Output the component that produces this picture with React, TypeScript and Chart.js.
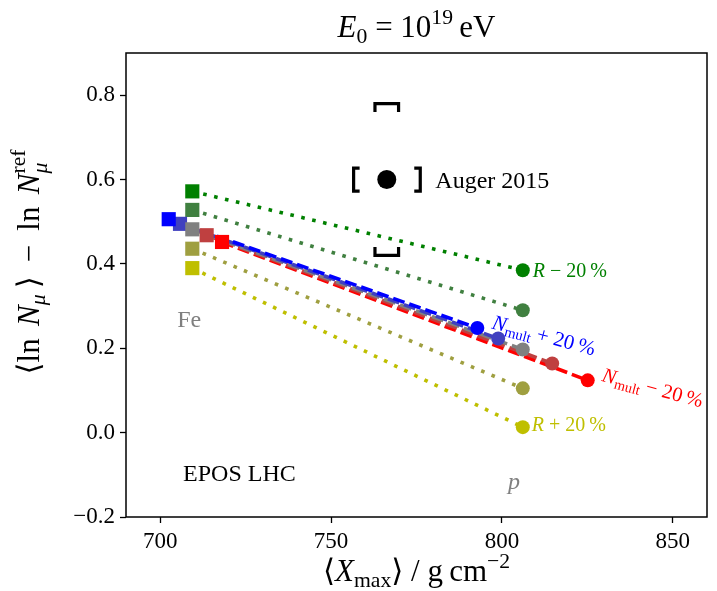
import React, { useEffect, useRef } from 'react';
import { Chart, registerables } from 'chart.js';
Chart.register(...registerables);

// ---------- data ----------
const seriesNames = ['Nmult +20%', 'Nmult +10%', 'reference', 'Nmult -10%', 'Nmult -20%', 'R -20%', 'R -10%', 'R +10%', 'R +20%'];
const feX = [702.5, 705.8, 709.4, 713.6, 718.1, 709.4, 709.4, 709.4, 709.4];
const feY = [0.506, 0.495, 0.482, 0.468, 0.452, 0.572, 0.528, 0.436, 0.39];
const pX = [792.8, 798.9, 806.1, 814.7, 825.1, 806.1, 806.1, 806.1, 806.1];
const pY = [0.248, 0.223, 0.197, 0.164, 0.124, 0.385, 0.29, 0.105, 0.013];

const augerX = [766.3];
const augerY = [0.6];
const augerSysX = [756.6, 776.1];
const augerSysY = [0.42, 0.78];

const xTicks = [700, 750, 800, 850];
const yTicks = [-0.2, 0, 0.2, 0.4, 0.6, 0.8];
const xRange = [690, 860];
const yRange = [-0.2, 0.9];

// ---------- styles ----------
const seriesColors = ['#0000ff', '#4040bf', '#808080', '#bf4040', '#ff0000', '#008000', '#408040', '#9f9f40', '#bfbf00'];
const seriesDashed = [true, true, true, true, true, false, false, false, false];
const lineOrder = [10, 11, 12, 13, 14, 15, 16, 17, 18];
const markerOrder = [2, 3, 1, 4, 5, 6, 7, 8, 9];

const SERIF = '"Liberation Serif", "DejaVu Serif", serif';

type Seg = { t: string; it?: boolean; sc?: number; dy?: number; stack?: boolean };

function fontStr(size: number, it?: boolean) {
  return `${it ? 'italic ' : ''}${size}px ${SERIF}`;
}

function layoutRich(ctx: CanvasRenderingContext2D, segs: Seg[], size: number) {
  const out: { s: Seg; x: number; w: number }[] = [];
  let cx = 0;
  let stackStart: number | null = null;
  let stackW = 0;
  for (const s of segs) {
    ctx.font = fontStr(size * (s.sc ?? 1), s.it);
    const w = ctx.measureText(s.t).width;
    if (stackStart !== null) {
      out.push({ s, x: stackStart, w });
      cx = stackStart + Math.max(stackW, w);
      stackStart = null;
      continue;
    }
    out.push({ s, x: cx, w });
    if (s.stack) {
      stackStart = cx;
      stackW = w;
    }
    cx += w;
  }
  return { items: out, width: cx };
}

function drawRich(ctx: CanvasRenderingContext2D, segs: Seg[], x: number, y: number, size: number, align: 'left' | 'center', color: string) {
  const { items, width } = layoutRich(ctx, segs, size);
  const x0 = align === 'center' ? x - width / 2 : x;
  ctx.fillStyle = color;
  ctx.textAlign = 'left';
  ctx.textBaseline = 'alphabetic';
  for (const it of items) {
    ctx.font = fontStr(size * (it.s.sc ?? 1), it.s.it);
    ctx.fillText(it.s.t, x0 + it.x, y - (it.s.dy ?? 0) * size);
  }
}

const titleSegs: Seg[] = [
  { t: 'E', it: true },
  { t: '0', sc: 0.7, dy: -0.2 },
  { t: ' = 10' },
  { t: '19', sc: 0.7, dy: 0.42 },
  { t: '\u2009eV' },
];
const xLabelSegs: Seg[] = [
  { t: '\u27E8' },
  { t: 'X', it: true },
  { t: 'max', sc: 0.7, dy: -0.2 },
  { t: '\u27E9 / g\u2009cm' },
  { t: '\u22122', sc: 0.7, dy: 0.42 },
];
const yLabelSegs: Seg[] = [
  { t: '\u27E8ln\u2009\u2009' },
  { t: 'N', it: true },
  { t: '\u03BC', it: true, sc: 0.7, dy: -0.2 },
  { t: '\u2009\u27E9 \u2009\u2212\u2009 ln\u2009\u2009' },
  { t: 'N', it: true },
  { t: '\u03BC', it: true, sc: 0.7, dy: -0.25, stack: true },
  { t: 'ref', sc: 0.7, dy: 0.45 },
];

const decorPlugin = {
  id: 'decor',
  afterDraw(chart: any) {
    const { ctx, chartArea: a } = chart;
    const xs = chart.scales.x;
    const ys = chart.scales.y;
    ctx.save();
    // frame
    ctx.strokeStyle = '#000';
    ctx.lineWidth = 1.5;
    ctx.strokeRect(a.left, a.top, a.right - a.left, a.bottom - a.top);

    // Auger systematic brackets
    const cx = xs.getPixelForValue(augerX[0]);
    const cy = ys.getPixelForValue(augerY[0]);
    const xl = xs.getPixelForValue(augerSysX[0]);
    const xr = xs.getPixelForValue(augerSysX[1]);
    const yb = ys.getPixelForValue(augerSysY[0]);
    const yt = ys.getPixelForValue(augerSysY[1]);
    ctx.lineWidth = 3.2;
    ctx.lineCap = 'butt';
    ctx.lineJoin = 'miter';
    const h = 11.5, arm = 6, w = 11.8, leg = 8.5;
    ctx.beginPath();
    ctx.moveTo(xl + arm, cy - h); ctx.lineTo(xl, cy - h); ctx.lineTo(xl, cy + h); ctx.lineTo(xl + arm, cy + h);
    ctx.moveTo(xr - arm, cy - h); ctx.lineTo(xr, cy - h); ctx.lineTo(xr, cy + h); ctx.lineTo(xr - arm, cy + h);
    ctx.moveTo(cx - w, yt + leg); ctx.lineTo(cx - w, yt); ctx.lineTo(cx + w, yt); ctx.lineTo(cx + w, yt + leg);
    ctx.moveTo(cx - w, yb - leg); ctx.lineTo(cx - w, yb); ctx.lineTo(cx + w, yb); ctx.lineTo(cx + w, yb - leg);
    ctx.stroke();

    const P = (x: number, y: number) => [xs.getPixelForValue(x), ys.getPixelForValue(y)];

    // in-plot texts
    let [tx, ty] = P(780.5, 0.581);
    drawRich(ctx, [{ t: 'Auger 2015' }], tx, ty, 24, 'left', '#000');
    [tx, ty] = P(708.5, 0.25);
    drawRich(ctx, [{ t: 'Fe' }], tx, ty, 24, 'center', '#808080');
    [tx, ty] = P(803.5, -0.134);
    drawRich(ctx, [{ t: 'p', it: true }], tx, ty, 24, 'center', '#808080');
    [tx, ty] = P(706.7, -0.115);
    drawRich(ctx, [{ t: 'EPOS LHC' }], tx, ty, 24, 'left', '#000');
    [tx, ty] = P(809.0, 0.368);
    drawRich(ctx, [{ t: 'R', it: true }, { t: ' \u2212 20\u2009%' }], tx, ty, 20, 'left', '#008000');
    [tx, ty] = P(808.7, 0.003);
    drawRich(ctx, [{ t: 'R', it: true }, { t: ' + 20\u2009%' }], tx, ty, 20, 'left', '#bfbf00');

    const rot = (15 * Math.PI) / 180;
    [tx, ty] = P(796.8, 0.2476);
    ctx.save();
    ctx.translate(tx, ty);
    ctx.rotate(rot);
    drawRich(ctx, [{ t: 'N', it: true }, { t: 'mult', sc: 0.7, dy: -0.2 }, { t: ' + 20\u2009%' }], 0, 0, 21, 'left', '#0000ff');
    ctx.restore();
    [tx, ty] = P(829.0, 0.123);
    ctx.save();
    ctx.translate(tx, ty);
    ctx.rotate(rot);
    drawRich(ctx, [{ t: 'N', it: true }, { t: 'mult', sc: 0.7, dy: -0.2 }, { t: ' \u2212 20\u2009%' }], 0, 0, 20.5, 'left', '#ff0000');
    ctx.restore();

    // title and axis labels
    const mid = (a.left + a.right) / 2;
    drawRich(ctx, titleSegs, mid, 37, 31, 'center', '#000');
    drawRich(ctx, xLabelSegs, mid, 581, 31, 'center', '#000');
    ctx.save();
    ctx.translate(39, 262);
    ctx.rotate(-Math.PI / 2);
    drawRich(ctx, yLabelSegs, 0, 0, 31, 'center', '#000');
    ctx.restore();

    ctx.restore();
  },
};

export default function App() {
  const ref = useRef<HTMLCanvasElement | null>(null);
  useEffect(() => {
    if (!ref.current) return;
    const datasets: any[] = [];
    seriesNames.forEach((name, i) => {
      const pts = [
        { x: feX[i], y: feY[i] },
        { x: pX[i], y: pY[i] },
      ];
      // connecting line
      datasets.push({
        label: name + ' line',
        data: pts,
        showLine: true,
        borderColor: seriesColors[i],
        backgroundColor: seriesColors[i],
        borderWidth: 3.6,
        borderDash: seriesDashed[i] ? [12, 5] : [3.6, 7.6],
        pointRadius: 0,
        order: lineOrder[i],
      });
      // markers (Fe square, proton circle)
      datasets.push({
        label: name,
        data: pts,
        showLine: false,
        borderColor: seriesColors[i],
        backgroundColor: seriesColors[i],
        pointStyle: ['rect', 'circle'],
        pointRadius: [10, 7],
        pointBorderWidth: 0,
        order: markerOrder[i],
      });
    });
    datasets.push({
      label: 'Auger 2015',
      data: augerX.map((x, i) => ({ x, y: augerY[i] })),
      showLine: false,
      backgroundColor: '#000',
      borderColor: '#000',
      pointStyle: 'circle',
      pointRadius: 9.5,
      pointBorderWidth: 0,
      order: 0,
    });
    const tickFont = { family: SERIF, size: 23 };
    const chart = new Chart(ref.current, {
      type: 'scatter',
      data: { datasets },
      options: {
        animation: false,
        responsive: false,
        maintainAspectRatio: false,
        devicePixelRatio: 1,
        layout: { padding: { top: 53, right: 8, left: 0, bottom: 0 } },
        plugins: { legend: { display: false }, tooltip: { enabled: false } },
        events: [],
        scales: {
          x: {
            type: 'linear',
            min: xRange[0],
            max: xRange[1],
            afterBuildTicks: (s: any) => {
              s.ticks = xTicks.map((v) => ({ value: v }));
            },
            afterFit: (s: any) => {
              s.height = 74;
            },
            ticks: { color: '#000', font: tickFont, padding: 5, callback: (v: any) => String(v) },
            grid: { display: true, drawOnChartArea: false, drawTicks: true, tickLength: 6, tickColor: '#000', tickWidth: 1.3 },
            border: { display: false },
          },
          y: {
            type: 'linear',
            min: yRange[0],
            max: yRange[1],
            afterBuildTicks: (s: any) => {
              s.ticks = yTicks.map((v) => ({ value: v }));
            },
            afterFit: (s: any) => {
              s.width = 126;
            },
            ticks: {
              color: '#000',
              font: tickFont,
              padding: 5,
              callback: (v: any) => Number(v).toFixed(1).replace('-', '\u2212'),
            },
            grid: { display: true, drawOnChartArea: false, drawTicks: true, tickLength: 6, tickColor: '#000', tickWidth: 1.3 },
            border: { display: false },
          },
        },
      },
      plugins: [decorPlugin],
    });
    return () => chart.destroy();
  }, []);
  return (
    <div style={{ position: 'fixed', left: 0, top: 0, width: 717, height: 591, background: '#fff' }}>
      <canvas ref={ref} width={717} height={591} style={{ display: 'block', width: 717, height: 591 }} />
    </div>
  );
}
